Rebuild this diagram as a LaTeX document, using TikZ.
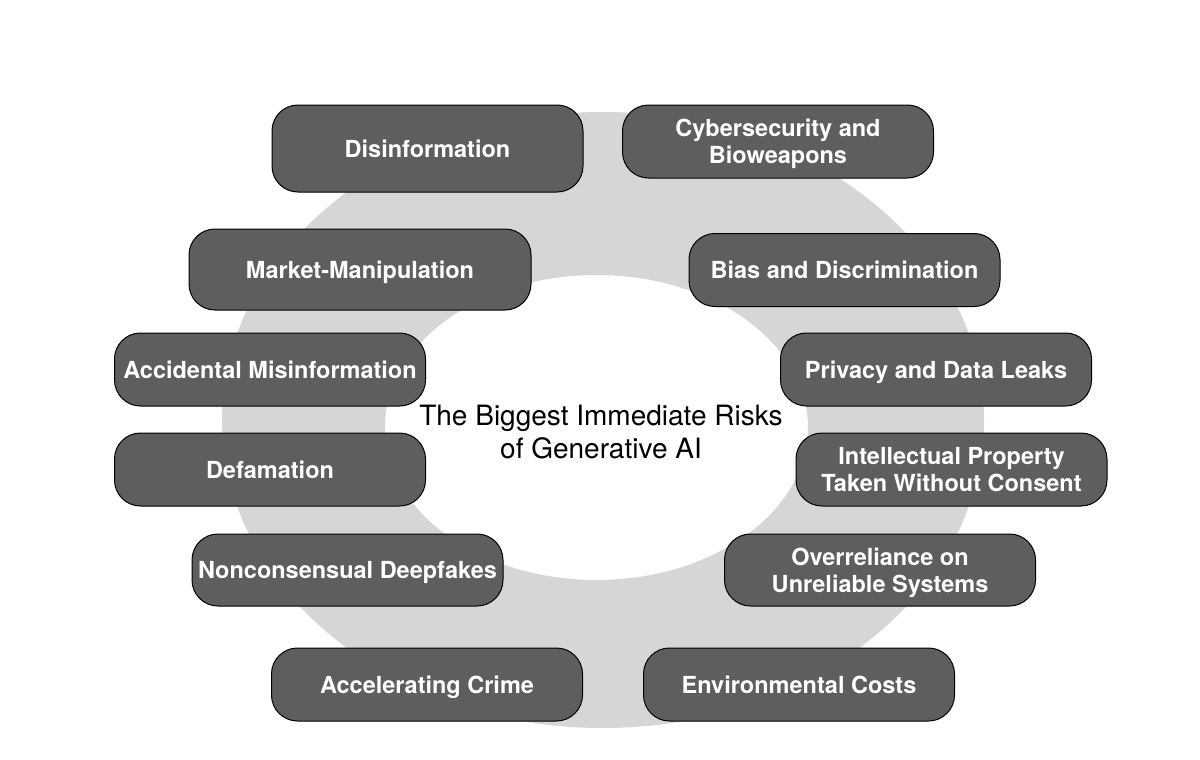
\documentclass[tikz,border=0pt]{standalone}
\usepackage{fontspec}
\setmainfont{TeX Gyre Heros}
\definecolor{riskGray}{RGB}{94,94,94}
\definecolor{ringGray}{RGB}{214,214,214}
\usepackage{tikz}
\usetikzlibrary{positioning}

\begin{document}
\begin{tikzpicture}[
  x=1pt, y=-1pt,
  riskbox/.style={draw=black, line width=1pt, fill=riskGray, text=white,
                  rounded corners=26pt, inner sep=0pt, minimum width=311pt,
                  minimum height=73pt, align=center, text depth=0pt,
                  font=\fontsize{23.5}{27}\selectfont\bfseries}
]
  \useasboundingbox (0,0) rectangle (1200,760);
  % ring behind the boxes
  \fill[ringGray, even odd rule] (603,420) ellipse [x radius=381, y radius=308]
                                 (596.5,427.5) ellipse [x radius=211.5, y radius=152.5];

  \node[font=\fontsize{28}{33}\selectfont, align=center] (title) at (601,432)
    {The Biggest Immediate Risks\\of Generative AI};

  \node[riskbox, minimum height=87pt]                 (disinfo)  at (427.5,148.5) {Disinformation};
  \node[riskbox]                                      (cyber)    at (778,141.5)   {Cybersecurity and\\Bioweapons};
  \node[riskbox, minimum width=342pt, minimum height=81pt] (market) at (360,269.5) {Market-Manipulation};
  \node[riskbox]                                      (bias)     at (844.5,270)   {Bias and Discrimination};
  \node[riskbox]                                      (accident) at (270,369.5)   {Accidental Misinformation};
  \node[riskbox]                                      (privacy)  at (936,369.5)   {Privacy and Data Leaks};
  \node[riskbox]                                      (defame)   at (270,469.5)   {Defamation};
  \node[riskbox]                                      (ip)       at (951.5,469.5) {Intellectual Property\\Taken Without Consent};
  \node[riskbox, minimum height=72pt]                 (deepfake) at (347.5,570)   {Nonconsensual Deepfakes};
  \node[riskbox, minimum height=72pt]                 (overrel)  at (880,570)     {Overreliance on\\Unreliable Systems};
  \node[riskbox]                                      (crime)    at (427,684.5)   {Accelerating Crime};
  \node[riskbox]                                      (environ)  at (799,684.5)   {Environmental Costs};
\end{tikzpicture}
\end{document}
